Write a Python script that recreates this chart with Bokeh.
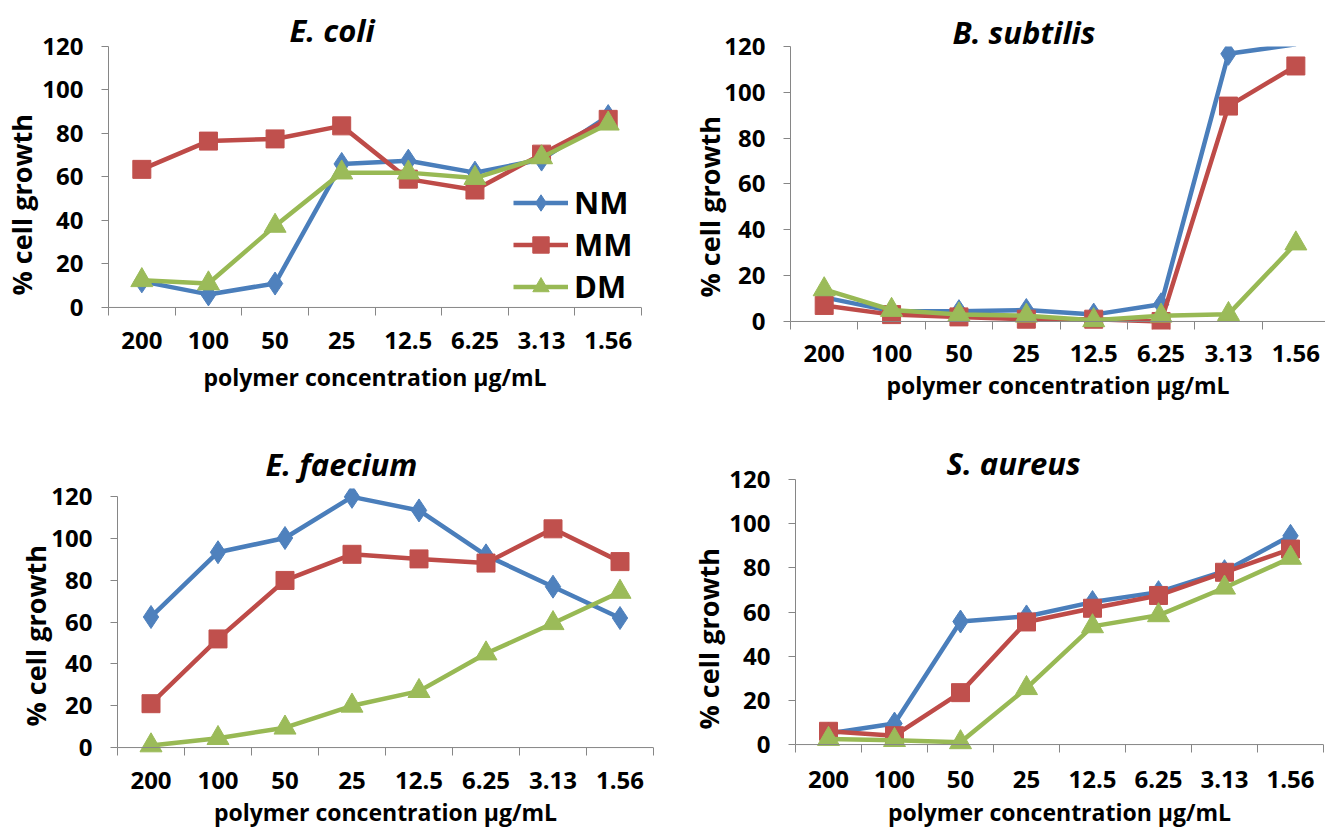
from bokeh.plotting import figure
from bokeh.layouts import column, row
from bokeh.models import (Range1d, FixedTicker, Legend, LegendItem, Span, Title,
                          ColumnDataSource, CDSView, BooleanFilter)
from bokeh.embed import file_html
from bokeh.resources import INLINE

# ---------------- data ----------------
categories = ["200", "100", "50", "25", "12.5", "6.25", "3.13", "1.56"]
series_names = ["NM", "MM", "DM"]
y_ticks = [0, 20, 40, 60, 80, 100, 120]
x_title = "polymer concentration µg/mL"
y_title = "% cell growth"

ecoli_nm = [12, 6, 11, 66, 67.5, 62, 68, 88]
ecoli_mm = [63.5, 76.5, 77.5, 83.5, 59, 54, 70.5, 86.5]
ecoli_dm = [12.5, 11, 37.5, 62, 62, 59.5, 69, 84.5]

bsub_nm = [10.5, 4.5, 4.5, 5, 3, 7.5, 116.8, 121]
bsub_mm = [7, 3, 2, 1, 1, 0, 94, 111.5]
bsub_dm = [14, 5, 3, 2.5, 0.5, 2.5, 3.2, 34]

efae_nm = [62.5, 93.5, 100.3, 120, 113.5, 92, 77, 62]
efae_mm = [21, 52, 80, 92.5, 90.3, 88.3, 104.7, 89]
efae_dm = [1, 4.5, 9.5, 20, 27, 45, 59.5, 74.5]

saur_nm = [5, 9.5, 55.7, 58, 64.5, 69, 78.5, 94.5]
saur_mm = [6, 4, 23.5, 55.5, 61.7, 67.5, 78, 88.5]
saur_dm = [2.5, 2, 1, 25.5, 53.5, 58.5, 71, 84.5]

# ---------------- styling ----------------
FONT = "Open Sans"
LINE_COLORS = ["#4A7EBB", "#BE4B48", "#98B954"]
FILL_COLORS = ["#4F81BD", "#C0504D", "#9BBB59"]
MARKERS = ["diamond", "square", "triangle"]
SIZES = [23, 18, 22]
AXIS_GRAY = "#868686"

xs = [i + 0.5 for i in range(len(categories))]


def panel(title, data, width, height, left, right, top, bottom, y_start, y_end, x_end,
          title_offset, title_standoff, lab_standoff, xt_standoff, yt_offset, yt_standoff,
          legend_loc=None):
    p = figure(width=width, height=height, output_backend="svg", toolbar_location=None,
               x_range=Range1d(0, x_end), y_range=Range1d(y_start, y_end),
               min_border_left=left, min_border_right=right,
               min_border_top=top, min_border_bottom=bottom, frame_align=False)
    p.title.text = title
    p.title.align = "left"
    p.title.offset = title_offset
    p.title.standoff = title_standoff
    p.title.text_font = FONT
    p.title.text_font_size = "31px"
    p.title.text_font_style = "bold italic"
    p.title.text_color = "black"

    p.outline_line_color = None
    p.xgrid.visible = False
    p.ygrid.visible = False
    p.background_fill_color = "white"
    p.border_fill_color = "white"

    # x axis: labels at category centres, tick marks on category boundaries
    xa = p.xaxis[0]
    xa.ticker = FixedTicker(ticks=xs, minor_ticks=list(range(len(categories) + 1)))
    xa.major_label_overrides = {x: c for x, c in zip(xs, categories)}
    xa.major_tick_out = 0
    xa.major_tick_in = 0
    xa.minor_tick_out = 0
    xa.minor_tick_in = 8
    xa.axis_line_color = None
    xa.minor_tick_line_color = AXIS_GRAY
    xa.major_label_text_font = FONT
    xa.major_label_text_font_size = "24px"
    xa.major_label_text_font_style = "bold"
    xa.major_label_text_color = "black"
    xa.major_label_standoff = lab_standoff
    xa.axis_label = x_title
    xa.axis_label_text_font = FONT
    xa.axis_label_text_font_size = "23px"
    xa.axis_label_text_font_style = "bold"
    xa.axis_label_text_color = "black"
    xa.axis_label_standoff = xt_standoff

    # category axis line sits at 0
    p.add_layout(Span(location=0, dimension="width", line_color=AXIS_GRAY, line_width=1))

    ya = p.yaxis[0]
    ya.ticker = FixedTicker(ticks=y_ticks)
    ya.bounds = (y_ticks[0], y_ticks[-1])
    ya.major_tick_out = 7
    ya.major_tick_in = 0
    ya.minor_tick_out = 0
    ya.minor_tick_in = 0
    ya.axis_line_color = AXIS_GRAY
    ya.major_tick_line_color = AXIS_GRAY
    ya.major_label_text_font = FONT
    ya.major_label_text_font_size = "24px"
    ya.major_label_text_font_style = "bold"
    ya.major_label_text_color = "black"
    ya.major_label_standoff = 18

    # value-axis title, placed like the original (centred over plot + label area)
    p.add_layout(Title(text=y_title, align="left", offset=yt_offset, standoff=yt_standoff,
                       text_font=FONT, text_font_size="27px", text_font_style="bold",
                       text_color="black"), "left")

    items = []
    for name, vals, lc, fc, mk, sz in zip(series_names, data, LINE_COLORS, FILL_COLORS, MARKERS, SIZES):
        src = ColumnDataSource(dict(x=xs, y=vals))
        rl = p.line("x", "y", source=src, line_color=lc, line_width=4.5, line_join="round")
        # like the original, markers beyond the value-axis maximum are not shown
        inside = BooleanFilter([v <= y_ticks[-1] for v in vals])
        rm = p.scatter("x", "y", source=src, view=CDSView(filter=inside), marker=mk, size=sz,
                       fill_color=fc, line_color=fc)
        items.append(LegendItem(label=name, renderers=[rl, rm]))

    if legend_loc is not None:
        lg = Legend(items=items, location=legend_loc, padding=0, margin=0, spacing=0,
                    border_line_color=None, background_fill_alpha=0,
                    glyph_width=55, glyph_height=41, label_height=41, label_standoff=6,
                    label_text_font=FONT, label_text_font_size="31px",
                    label_text_font_style="bold", label_text_color="black")
        p.add_layout(lg)
    return p


p1 = panel("E. coli", [ecoli_nm, ecoli_mm, ecoli_dm], 662, 428,
           left=107, right=21, top=46, bottom=113, y_start=-3.7, y_end=120, x_end=8,
           title_offset=181, title_standoff=-8, lab_standoff=16, xt_standoff=9,
           yt_offset=20, yt_standoff=0, legend_loc=(405, 8))
p2 = panel("B. subtilis", [bsub_nm, bsub_mm, bsub_dm], 663, 428,
           left=128, right=0, top=46, bottom=99, y_start=-3.5, y_end=120, x_end=7.94,
           title_offset=162, title_standoff=-12, lab_standoff=15, xt_standoff=4,
           yt_offset=32, yt_standoff=-13)
p3 = panel("E. faecium", [efae_nm, efae_mm, efae_dm], 662, 402,
           left=117, right=9, top=60, bottom=73, y_start=-3.8, y_end=124, x_end=8,
           title_offset=148, title_standoff=8, lab_standoff=16, xt_standoff=4,
           yt_offset=29, yt_standoff=-10)
p4 = panel("S. aureus", [saur_nm, saur_mm, saur_dm], 663, 402,
           left=133, right=2, top=51, bottom=77, y_start=-3.6, y_end=120, x_end=8,
           title_offset=151, title_standoff=-8, lab_standoff=18, xt_standoff=5,
           yt_offset=23, yt_standoff=0)

layout = column(row(p1, p2), row(p3, p4))

with open("out.html", "w") as f:
    f.write(file_html(layout, INLINE))
